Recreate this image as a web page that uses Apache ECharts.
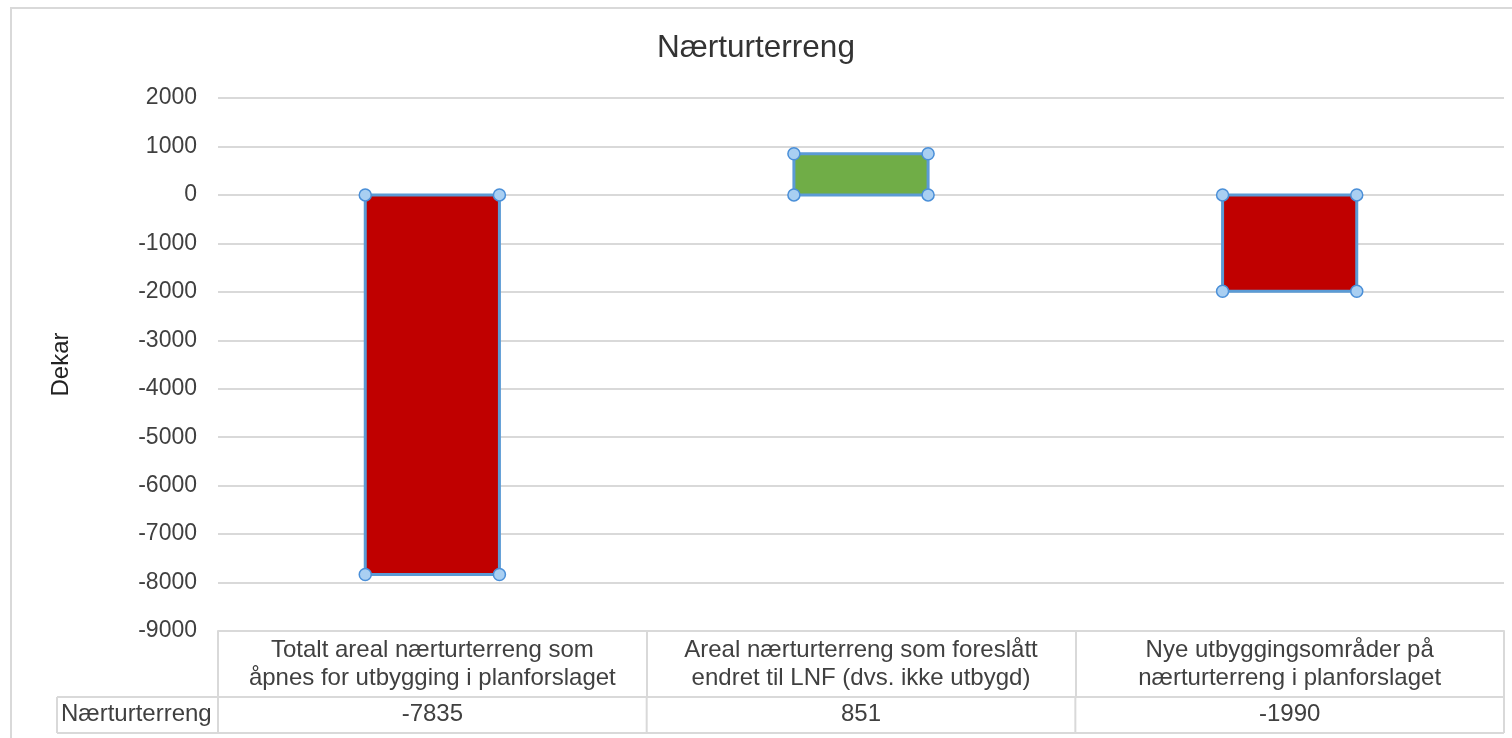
<!DOCTYPE html>
<html>
<head>
<meta charset="utf-8">
<script src="https://cdn.jsdelivr.net/npm/echarts@6/dist/echarts.min.js"></script>
<style>
html,body{margin:0;padding:0;background:#fff;}
#chart{width:1512px;height:738px;}
</style>
</head>
<body>
<div id="chart"></div>
<script>
const chartTitle = 'Nærturterreng';
const seriesName = 'Nærturterreng';
const yAxisName = 'Dekar';
const categories = [
  'Totalt areal nærturterreng som\nåpnes for utbygging i planforslaget',
  'Areal nærturterreng som foreslått\nendret til LNF (dvs. ikke utbygd)',
  'Nye utbyggingsområder på\nnærturterreng i planforslaget'
];
const values = [-7835, 851, -1990];
const barColors = ['#C00000', '#70AD47', '#C00000'];
const yMin = -9000, yMax = 2000, yStep = 1000;

const FONT = '"Liberation Sans", Arial, sans-serif';
const W = 1512, H = 738;
const G = {left: 218, right: 8, top: 98, bottom: 107};
const rowH1 = 66, rowH2 = 36;
const lineCol = '#d9d9d9';
const textCol = '#404040';

const chart = echarts.init(document.getElementById('chart'));

function buildGraphic() {
  const x0 = G.left, x1 = W - G.right;
  const yTop = H - G.bottom;
  const yMid = yTop + rowH1;
  const yBot = yMid + rowH2;
  const colW = (x1 - x0) / categories.length;
  const labelLeft = 57;
  const els = [];
  els.push({type:'rect', shape:{x:11, y:8, width:W, height:H}, style:{fill:'none', stroke:lineCol, lineWidth:2}, silent:true});
  els.push({type:'line', shape:{x1:labelLeft, y1:yMid, x2:x1, y2:yMid}, style:{stroke:lineCol, lineWidth:2}});
  els.push({type:'line', shape:{x1:labelLeft, y1:yBot, x2:x1, y2:yBot}, style:{stroke:lineCol, lineWidth:2}});
  els.push({type:'line', shape:{x1:labelLeft, y1:yMid, x2:labelLeft, y2:yBot}, style:{stroke:lineCol, lineWidth:2}});
  for (let i = 0; i <= categories.length; i++) {
    const x = x0 + i * colW;
    els.push({type:'line', shape:{x1:x, y1:yMid, x2:x, y2:yBot}, style:{stroke:lineCol, lineWidth:2}});
  }
  els.push({type:'text', x: labelLeft + 4, y: (yMid + yBot) / 2 - 1,
    style:{text: seriesName, fontSize: 24, fontFamily: FONT, fill: textCol, verticalAlign:'middle', align:'left'}});
  values.forEach((v, i) => {
    els.push({type:'text', x: x0 + (i + 0.5) * colW, y: (yMid + yBot) / 2 - 1,
      style:{text: String(v), fontSize: 24, fontFamily: FONT, fill: textCol, verticalAlign:'middle', align:'center'}});
  });
  return els;
}

const option = {
  animation: false,
  backgroundColor: '#fff',
  title: {
    text: chartTitle, left: 'center', top: 27,
    textStyle: {fontSize: 31.5, fontWeight: 'normal', fontFamily: FONT, color: '#333'}
  },
  grid: G,
  xAxis: {
    type: 'category',
    data: categories,
    position: 'bottom',
    axisLine: {show: true, onZero: false, lineStyle: {color: lineCol, width: 2}},
    axisTick: {show: true, interval: 0, length: rowH1, lineStyle: {color: lineCol, width: 2}},
    axisLabel: {interval: 0, margin: 5, fontSize: 24, lineHeight: 28, fontFamily: FONT, color: textCol, align: 'center'},
    splitLine: {show: false}
  },
  yAxis: {
    type: 'value',
    min: yMin, max: yMax, interval: yStep,
    name: yAxisName, nameLocation: 'middle', nameGap: 145, nameRotate: 90,
    nameTextStyle: {fontSize: 24, fontFamily: FONT, color: '#222'},
    axisLine: {show: false}, axisTick: {show: false},
    axisLabel: {fontSize: 23, fontFamily: FONT, color: '#404040', margin: 21, formatter: v => String(v)},
    splitLine: {lineStyle: {color: lineCol, width: 2}}
  },
  series: [{
    type: 'custom',
    name: seriesName,
    data: values.map((v, i) => [i, v]),
    renderItem: function (params, api) {
      const idx = api.value(0), v = api.value(1);
      const p0 = api.coord([idx, 0]);
      const p1 = api.coord([idx, v]);
      const bw = api.size([1, 0])[0] * 0.313;
      const xl = p0[0] - bw / 2, xr = p0[0] + bw / 2;
      const yt = Math.min(p0[1], p1[1]), yb = Math.max(p0[1], p1[1]);
      const children = [{
        type: 'rect', shape: {x: xl, y: yt, width: bw, height: yb - yt},
        style: {fill: barColors[params.dataIndex], stroke: '#5B9BD5', lineWidth: 3}
      }];
      [[xl, yt], [xr, yt], [xl, yb], [xr, yb]].forEach(pt => {
        children.push({type: 'circle', shape: {cx: pt[0], cy: pt[1], r: 6},
          style: {fill: '#A9CFF2', stroke: '#4A8FD8', lineWidth: 1.5}});
      });
      return {type: 'group', children};
    }
  }],
  graphic: buildGraphic()
};
chart.setOption(option);
</script>
</body>
</html>
